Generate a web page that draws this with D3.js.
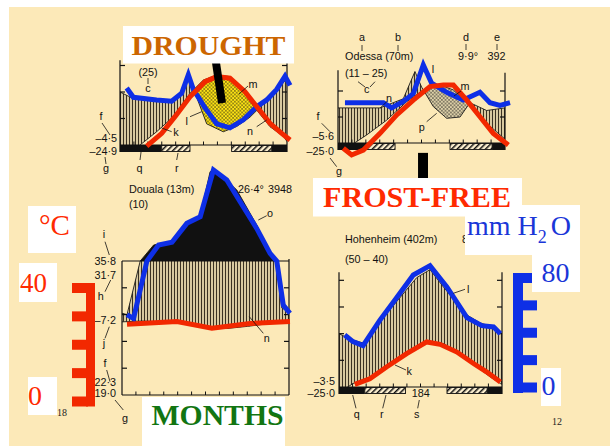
<!DOCTYPE html>
<html>
<head>
<meta charset="utf-8">
<script src="https://cdn.jsdelivr.net/npm/d3@7"></script>
<style>
  body { margin: 0; background: #fff; }
  svg { display: block; }
</style>
</head>
<body>
<svg id="chart" width="610" height="446"></svg>
<script>
// traced curves: [month position 0..12, value]; temperature in °C, rain in mm
const t1 = [[0, -7], [0.5, -5], [1.44, 0], [2.63, 5], [3.83, 10.7], [5.03, 19.5], [5.99, 24.5], [6.95, 26.4], [7.9, 25.8], [8.86, 20.1], [9.82, 13.2], [10.78, 6.9], [11.78, 3.1], [12, 1.3]];
const r1 = [[0, 40], [0.96, 35], [2.63, 34], [3.71, 33], [4.31, 38], [5.03, 52], [5.51, 36], [6.23, 16], [7.42, 10], [8.39, 14], [9.34, 21], [10.3, 31], [11.26, 42], [12, 50]];
const red1 = [[1.92, -0.4], [3.0, 4.4], [3.95, 10.7], [5.03, 18.2], [6.11, 23.9], [6.95, 25.8], [7.9, 25.2], [8.98, 20.1], [9.82, 14.5], [10.78, 8.2], [11.62, 4.4], [12.22, 1.9]];
const blue1 = [[0.48, 43], [0.96, 36], [2.63, 34], [3.71, 33], [4.43, 39], [4.91, 53], [5.27, 42], [6.11, 28], [6.95, 16], [7.9, 13], [8.86, 19], [9.82, 29], [10.54, 34], [11.26, 42], [11.86, 52], [12.22, 45]];
const frost1 = [[0, 3.0], [10.9, 12]];
const late1 = [[3.0, 5.03], [8.02, 10.9]];

// Odessa
const t2 = [[0, -4], [0.62, -2], [2.06, 3.1], [3.5, 8.8], [4.94, 15.9], [6.13, 20.4], [7.33, 22.3], [8.29, 20.4], [9.48, 14.6], [10.68, 7.6], [11.93, 1.8], [12, 1.5]];
const r2 = [[0, 27], [3.02, 27], [3.97, 31], [4.69, 34], [5.53, 55], [6.01, 43], [6.85, 28], [7.81, 19], [8.77, 20], [9.48, 31], [10.68, 25], [12, 27]];
const red2 = [[0.38, -2], [0.98, -4.6], [1.82, -2.7], [3.02, 3.7], [4.22, 10.8], [5.41, 16.5], [6.61, 21.7], [7.57, 22.3], [8.29, 22.3], [9.25, 16.5], [10.2, 10.1], [11.16, 3.7], [12.24, -0.8]];
const blue2 = [[0.5, 31], [3.26, 31], [3.86, 27], [4.69, 32], [5.41, 38], [6.13, 60], [6.73, 46], [7.81, 39], [9.0, 33], [10.2, 39], [10.92, 31], [11.64, 29], [12.36, 31]];
const frost2 = [[0, 2.1], [11.07, 12]];
const late2 = [[2.1, 4.1], [8.05, 11.07]];

// Douala
const t3 = [[0, 27.3], [1.5, 27.6], [3.5, 27.2], [5.2, 26.4], [6.5, 25.0], [7.5, 24.8], [9, 25.6], [10.5, 26.6], [12, 27.3]];
const r3 = [[0, 61], [0.36, 60], [1.31, 100], [2.27, 219], [3.59, 249], [4.54, 369], [5.62, 438], [6.33, 766], [6.69, 779], [8.25, 630], [9.68, 369], [10.76, 145], [11.12, 100], [11.48, 65], [12, 62]];
const red3 = [[0.36, 26.4], [3.95, 27.4], [6.46, 24.9], [9.2, 26.7], [12.07, 27.4]];
const blue3 = [[0.36, 60], [0.83, 57], [1.79, 100], [2.63, 219], [3.59, 240], [4.66, 381], [5.62, 430], [6.57, 779], [7.53, 705], [8.49, 542], [9.68, 343], [10.64, 157], [11.12, 100], [11.59, 67], [12.07, 61]];

// Hohenheim
const t4 = [[0, -1.5], [0.5, -0.5], [1.03, 1.3], [2.27, 3.75], [3.75, 8.8], [5.23, 13.8], [6.46, 16.9], [7.69, 16.3], [8.92, 12.5], [10.15, 7.5], [11.14, 3.75], [11.88, 1.3], [12, 1.0]];
const r4 = [[0, 40], [0.79, 36], [1.77, 33], [3.5, 55], [5.72, 82], [6.7, 88], [7.69, 75], [9.42, 54], [10.4, 48], [11.38, 45], [12, 40]];
const red4 = [[1.16, 1.0], [2.27, 3.1], [3.5, 7.5], [4.98, 12.5], [6.46, 16.9], [7.44, 16], [8.68, 13.1], [9.9, 8.8], [10.89, 5.6], [11.88, 1.9]];
const blue4 = [[0.42, 39], [1.03, 34], [1.77, 31], [3.0, 50], [4.24, 67], [5.47, 84], [6.7, 91], [7.94, 75], [9.42, 52], [10.52, 46], [11.38, 45], [11.88, 40]];
const frost4 = [[0, 1.9], [10.9, 12]];
const late4 = [[1.9, 4.9], [7.95, 10.9]];

// side scales
const degTicks = [0, 10, 20, 30, 40];
const mmTicks = [0, 20, 40, 60, 80];

const W = 610, H = 446;
const RED = "#f22800", BLUE = "#0e2fe6";
const SANS = "'Liberation Sans', Arial, sans-serif";
const SERIF = "'Liberation Serif', 'Times New Roman', serif";

const svg = d3.select("#chart");
const defs = svg.append("defs");

// vertical hatching (humid season)
const hatch = defs.append("pattern").attr("id", "hatch")
  .attr("patternUnits", "userSpaceOnUse").attr("width", 3).attr("height", 6);
hatch.append("rect").attr("width", 3).attr("height", 6).attr("fill", "#d8c9a0");
hatch.append("rect").attr("width", 1).attr("height", 6).attr("fill", "#3a3122");

// diagonal hatching (months with possible frost)
const diag = defs.append("pattern").attr("id", "diag")
  .attr("patternUnits", "userSpaceOnUse").attr("width", 4).attr("height", 4)
  .attr("patternTransform", "rotate(45)");
diag.append("rect").attr("width", 4).attr("height", 4).attr("fill", "#fcefcf");
diag.append("rect").attr("width", 1.5).attr("height", 4).attr("fill", "#111");

// dotted (arid season)
function dots(id, bg) {
  const p = defs.append("pattern").attr("id", id)
    .attr("patternUnits", "userSpaceOnUse").attr("width", 3.6).attr("height", 3.6);
  p.append("rect").attr("width", 3.6).attr("height", 3.6).attr("fill", bg);
  p.append("circle").attr("cx", 0.9).attr("cy", 0.9).attr("r", 0.75).attr("fill", "#111");
  p.append("circle").attr("cx", 2.7).attr("cy", 2.7).attr("r", 0.75).attr("fill", "#111");
}
dots("dotsY", "#ffe414");
dots("dotsG", "#ddd0a8");

svg.append("rect").attr("width", W).attr("height", H).attr("fill", "#fff");
svg.append("rect").attr("x", 9).attr("y", 7).attr("width", W - 9).attr("height", H - 7).attr("fill", "#fce9b8");

function drawPanel(id, L, D) {
  const x = d3.scaleLinear().domain([0, 12]).range([L.x0, L.x1]);
  const y = d3.scaleLinear().domain([0, 50]).range([L.base, L.base - 50 * L.k]);
  // rain: 20 mm per 10 °C, above 100 mm reduced to 1/10
  const yr = (mm) => (mm <= 100 ? y(mm / 2) : y(50 + (mm - 100) / 20));
  const g = svg.append("g");

  const box = (a, b, c, d) => `M${a},${b}H${c}V${d}H${a}Z`;
  const clip = (name, d) => defs.append("clipPath").attr("id", id + name).append("path").attr("d", d);
  clip("frame", box(x(0), y(50), x(12), y(0)));
  clip("above", box(x(0), 0, x(12), y(50)));
  clip("plot", box(x(0), 0, x(12), y(0)));
  clip("overT", d3.area().x((d) => x(d[0])).y0(0).y1((d) => y(d[1]))(D.temp));
  clip("overR", d3.area().x((d) => x(d[0])).y0(0).y1((d) => yr(d[1]))(D.rain));

  // humid season: under rain curve, over temperature curve
  g.append("g").attr("clip-path", `url(#${id}frame)`)
    .append("path").attr("clip-path", `url(#${id}overT)`)
    .attr("d", d3.area().x((d) => x(d[0])).y0(H).y1((d) => yr(d[1]))(D.rain))
    .attr("fill", "url(#hatch)");

  // arid season: under temperature curve, over rain curve
  if (D.arid) {
    g.append("g").attr("clip-path", `url(#${id}frame)`)
      .append("path").attr("clip-path", `url(#${id}overR)`)
      .attr("d", d3.area().x((d) => x(d[0])).y0(H).y1((d) => y(d[1]))(D.temp))
      .attr("fill", `url(#${D.arid})`);
  }

  // rain above 100 mm in black
  if (d3.max(D.rain, (d) => d[1]) > 100) {
    g.append("path").attr("clip-path", `url(#${id}above)`)
      .attr("d", d3.area().x((d) => x(d[0])).y0(y(50)).y1((d) => yr(d[1]))(D.rain))
      .attr("fill", "#111");
  }

  // thin printed curves
  g.append("g").attr("clip-path", `url(#${id}plot)`)
    .selectAll("path")
    .data([[D.temp, y], [D.rain, yr]])
    .join("path")
    .attr("d", ([pts, f]) => d3.line().x((d) => x(d[0])).y((d) => f(d[1]))(pts))
    .attr("fill", "none")
    .attr("stroke", "#1a1a1a")
    .attr("stroke-width", 0.9);

  // frost bars below the baseline
  g.selectAll(null).data(D.frost).join("rect")
    .attr("x", (d) => x(d[0])).attr("width", (d) => x(d[1]) - x(d[0]))
    .attr("y", L.base).attr("height", 7).attr("fill", "#111");
  g.selectAll(null).data(D.late).join("rect")
    .attr("x", (d) => x(d[0])).attr("width", (d) => x(d[1]) - x(d[0]))
    .attr("y", L.base + 0.5).attr("height", 6).attr("fill", "url(#diag)")
    .attr("stroke", "#111").attr("stroke-width", 0.9);

  // frame
  const ax = g.append("g").attr("stroke", "#111").attr("stroke-width", 1.2).attr("fill", "none");
  const bottom = L.base + (D.frost.length ? 7 : 0);
  ax.append("line").attr("x1", x(0)).attr("x2", x(0)).attr("y1", y(L.topL)).attr("y2", bottom);
  ax.append("line").attr("x1", x(12)).attr("x2", x(12)).attr("y1", y(L.topR)).attr("y2", bottom);
  ax.append("line").attr("x1", x(0)).attr("x2", x(12)).attr("y1", y(0)).attr("y2", y(0));
  if (L.top) ax.append("line").attr("x1", x(0)).attr("x2", x(12)).attr("y1", y(50)).attr("y2", y(50));
  ax.selectAll(null).data(L.ticks).join("line")
    .attr("x1", x(0)).attr("x2", x(0) + 5).attr("y1", (d) => y(d)).attr("y2", (d) => y(d));
  ax.selectAll(null).data(L.ticks).join("line")
    .attr("x1", x(12) - 5).attr("x2", x(12)).attr("y1", (d) => y(d)).attr("y2", (d) => y(d));
  ax.selectAll(null).data(d3.range(1, 12)).join("line")
    .attr("stroke-width", 1)
    .attr("x1", (d) => x(d)).attr("x2", (d) => x(d)).attr("y1", y(0)).attr("y2", y(0) - 3.5);

  // colored overlays
  g.append("path")
    .attr("d", d3.line().x((d) => x(d[0])).y((d) => yr(d[1]))(D.blue))
    .attr("fill", "none").attr("stroke", BLUE).attr("stroke-width", 5);
  g.append("path")
    .attr("d", d3.line().x((d) => x(d[0])).y((d) => y(d[1]))(D.red))
    .attr("fill", "none").attr("stroke", RED).attr("stroke-width", 5);

  if (L.pointer) {
    const [a, b] = L.pointer;
    g.append("line")
      .attr("x1", x(a[0])).attr("y1", y(a[1])).attr("x2", x(b[0])).attr("y2", y(b[1]))
      .attr("stroke", "#000").attr("stroke-width", L.pointerWidth);
  }
}

drawPanel("p1",
  { x0: 120, x1: 287, base: 145, k: 2.65, topL: 32, topR: 31, ticks: [10, 20, 30],
    pointer: [[6.83, 33.5], [7.33, 15.8]], pointerWidth: 8 },
  { temp: t1, rain: r1, red: red1, blue: blue1, frost: frost1, late: late1, arid: "dotsY" });
drawPanel("p2",
  { x0: 338, x1: 505, base: 143, k: 2.6, topL: 28, topR: 27, ticks: [10, 20],
    pointer: [[6.11, -3.8], [6.11, -14.5]], pointerWidth: 10 },
  { temp: t2, rain: r2, red: red2, blue: blue2, frost: frost2, late: late2, arid: "dotsG" });
drawPanel("p3",
  { x0: 122, x1: 289, base: 395, k: 2.68, topL: 50, topR: 50.7, ticks: [10, 20, 30, 40], top: true },
  { temp: t3, rain: r3, red: red3, blue: blue3, frost: [], late: [], arid: null });
drawPanel("p4",
  { x0: 339, x1: 502, base: 387, k: 2.667, topL: 43, topR: 43, ticks: [10, 20, 30, 40] },
  { temp: t4, rain: r4, red: red4, blue: blue4, frost: frost4, late: late4, arid: null });

// small printed labels
const labels = [
  ["(25)", 148, 76, "middle"], ["c", 148, 92, "middle"], ["f", 101, 120, "middle"],
  ["–4·5", 117, 141.5, "end"], ["–24·9", 117, 155, "end"], ["g", 106, 171.5, "middle"],
  ["q", 139.5, 171.5, "middle"], ["r", 176.7, 171.5, "middle"], ["k", 176, 136, "middle"],
  ["l", 186.7, 125, "middle"], ["m", 253, 88, "middle"], ["n", 250, 135, "middle"],

  ["a", 362, 41, "middle"], ["b", 398, 41, "middle"], ["Odessa (70m)", 345, 60, "start"],
  ["d", 466, 41, "middle"], ["e", 497, 41, "middle"], ["9·9°", 468, 60, "middle"],
  ["392", 496.5, 60, "middle"], ["(11 – 25)", 345, 77, "start"], ["c", 366.7, 93.3, "middle"],
  ["n", 389, 102, "middle"], ["l", 433, 73, "middle"], ["m", 465, 90, "middle"],
  ["p", 421.7, 131, "middle"], ["f", 318, 120, "middle"], ["–5·6", 334, 140, "end"],
  ["–25·0", 334, 155, "end"], ["g", 339, 175, "middle"],

  ["Douala (13m)", 129, 193.3, "start"], ["(10)", 129, 208.3, "start"],
  ["26·4°", 238, 193.3, "start"], ["3948", 268, 193.3, "start"], ["o", 270, 216.7, "middle"],
  ["i", 104, 238.3, "middle"], ["35·8", 116, 265, "end"], ["31·7", 116, 279.3, "end"],
  ["h", 100.7, 300, "middle"], ["–7·2", 116, 324, "end"], ["j", 104, 346.7, "middle"],
  ["f", 105, 366.7, "middle"], ["22·3", 116, 386, "end"], ["19·0", 116, 396.7, "end"],
  ["g", 125, 421.7, "middle"], ["n", 266.7, 342.3, "middle"],

  ["Hohenheim (402m)", 345, 243.3, "start"], ["8", 462, 243.3, "start"],
  ["(50 – 40)", 345, 262.7, "start"], ["l", 468.3, 292.7, "middle"], ["k", 409.3, 375, "middle"],
  ["–3·5", 335, 385, "end"], ["–25·0", 335, 396.7, "end"], ["184", 420.7, 396.7, "middle"],
  ["s", 416.7, 417.7, "middle"], ["q", 356.7, 417.7, "middle"], ["r", 381.7, 417.7, "middle"],
];

const leaders = [
  [148, 78, 148, 84], [102, 123, 110, 135], [105, 157, 106, 164], [141.7, 147, 140, 160],
  [178, 153, 176.7, 160], [161.7, 128, 171.7, 131.7], [190, 116.7, 201.7, 111.7],
  [248, 86, 239, 94], [256.7, 126.7, 266.7, 120],
  [362, 45, 362, 51], [398, 45, 398, 51], [466, 44, 466, 50], [497, 44, 497, 50],
  [358, 81.7, 365, 87], [375, 81.7, 370, 87], [386.7, 101.7, 380, 108.3],
  [426.7, 121.7, 436.7, 113.3], [461, 91, 454, 96], [321.7, 123.3, 330, 131.7], [330, 158, 336.7, 166.7],
  [258.3, 220, 266.7, 215.7], [105, 241.7, 109.3, 255], [110.7, 280, 105, 291.7],
  [109.3, 326.7, 105, 338.3], [106.7, 370, 110, 381.7], [115, 400, 123.3, 410], [249.3, 316.7, 263.3, 333.3],
  [453.3, 293.3, 465, 289.3], [395, 365, 406, 370], [419.3, 400, 417.7, 408.3],
  [352.7, 395, 356, 408.3], [386, 395, 382.7, 408.3],
];

svg.append("g").attr("stroke", "#111").attr("stroke-width", 0.8)
  .selectAll("line").data(leaders).join("line")
  .attr("x1", (d) => d[0]).attr("y1", (d) => d[1]).attr("x2", (d) => d[2]).attr("y2", (d) => d[3]);

svg.append("g").attr("font-family", SANS).attr("font-size", 10.8).attr("fill", "#111")
  .selectAll("text").data(labels).join("text")
  .attr("x", (d) => d[1]).attr("y", (d) => d[2]).attr("text-anchor", (d) => d[3])
  .text((d) => d[0]);

// side scale brackets
const yC = d3.scaleLinear().domain([0, 40]).range([401.5, 288]);
const red = svg.append("g").attr("fill", RED);
red.append("rect").attr("x", 86).attr("width", 9).attr("y", yC(40) - 5).attr("height", yC(0) - yC(40) + 10);
red.selectAll(null).data(degTicks).join("rect")
  .attr("x", 72).attr("width", 16).attr("y", (d) => yC(d) - 5).attr("height", 10);

const yM = d3.scaleLinear().domain([0, 80]).range([387.5, 278]);
const blue = svg.append("g").attr("fill", BLUE);
blue.append("rect").attr("x", 513).attr("width", 10).attr("y", yM(80) - 5).attr("height", yM(0) - yM(80) + 10.5);
blue.selectAll(null).data(mmTicks).join("rect")
  .attr("x", 522).attr("width", 15).attr("y", (d) => yM(d) - 5).attr("height", 10);

// white label boxes
const boxes = [
  [123, 26, 294, 63.5], [313, 178, 522, 216.5], [142, 397, 285, 446],
  [28, 206, 76, 253], [19, 263, 57, 302], [28, 377, 57, 415],
  [465, 205, 580, 255], [532, 255, 580, 292], [541, 368, 561, 406],
];
svg.append("g").attr("fill", "#fff")
  .selectAll("rect").data(boxes).join("rect")
  .attr("x", (d) => d[0]).attr("y", (d) => d[1])
  .attr("width", (d) => d[2] - d[0]).attr("height", (d) => d[3] - d[1]);

const big = [
  ["DROUGHT", 131.5, 55, "#cc6600", 28, "bold", 154],
  ["FROST-FREE", 323, 206.7, "#ff2a00", 30, "bold", 188],
  ["MONTHS", 151.5, 425, "#127512", 29, "bold", 132],
  ["°C", 39, 235, "#ff2a00", 29, "normal", 31],
  ["40", 20, 291.7, "#ff2a00", 28, "normal", 27],
  ["0", 28, 405, "#ff2a00", 28, "normal", 14],
  ["80", 541.5, 281.7, "#1a36d8", 28, "normal", 28],
  ["0", 541.5, 395, "#1a36d8", 28, "normal", 14],
];
svg.append("g").attr("font-family", SERIF)
  .selectAll("text").data(big).join("text")
  .attr("x", (d) => d[1]).attr("y", (d) => d[2]).attr("fill", (d) => d[3])
  .attr("font-size", (d) => d[4]).attr("font-weight", (d) => d[5])
  .attr("textLength", (d) => d[6]).attr("lengthAdjust", "spacingAndGlyphs")
  .text((d) => d[0]);

const h2o = svg.append("text").attr("x", 467).attr("y", 235)
  .attr("font-family", SERIF).attr("font-size", 28).attr("fill", "#1a36d8");
h2o.append("tspan").text("mm H");
h2o.append("tspan").attr("dy", 8).attr("font-size", 18).text("2");
h2o.append("tspan").attr("dy", -8).attr("dx", 4).text("O");

// page numbers
svg.append("g").attr("font-family", SERIF).attr("font-size", 10).attr("fill", "#222")
  .attr("text-anchor", "middle")
  .selectAll("text").data([["18", 62, 416], ["12", 557, 425]]).join("text")
  .attr("x", (d) => d[1]).attr("y", (d) => d[2]).text((d) => d[0]);
</script>
</body>
</html>
